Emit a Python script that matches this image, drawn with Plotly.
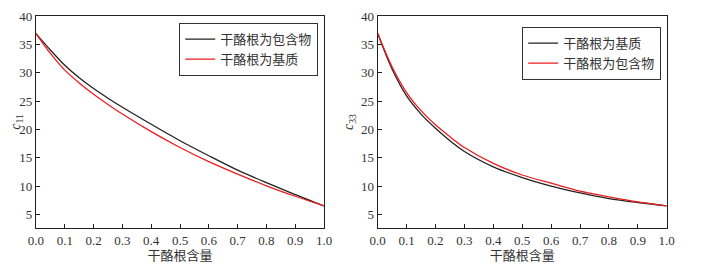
import plotly.graph_objects as go

x_vals = [0.0, 0.05, 0.1, 0.15, 0.2, 0.25, 0.3, 0.4, 0.5, 0.6, 0.7, 0.8, 0.9, 1.0]

# Left panel: c11
c11_inclusion = [36.9, 34.0, 31.3, 29.1, 27.2, 25.5, 23.9, 20.9, 18.0, 15.35, 12.8, 10.6, 8.5, 6.5]
c11_matrix = [36.9, 33.4, 30.45, 28.2, 26.2, 24.4, 22.7, 19.6, 16.8, 14.3, 12.1, 10.05, 8.2, 6.5]

# Right panel: c33
c33_matrix = [36.9, 30.6, 25.9, 22.7, 20.2, 18.0, 16.1, 13.4, 11.5, 10.0, 8.8, 7.8, 7.1, 6.5]
c33_inclusion = [36.9, 31.0, 26.5, 23.3, 20.8, 18.7, 16.8, 14.0, 11.95, 10.5, 9.1, 8.1, 7.2, 6.5]

x_ticks = [0.0, 0.1, 0.2, 0.3, 0.4, 0.5, 0.6, 0.7, 0.8, 0.9, 1.0]
x_tick_text = ["0.0", "0.1", "0.2", "0.3", "0.4", "0.5", "0.6", "0.7", "0.8", "0.9", "1.0"]
y_ticks = [5, 10, 15, 20, 25, 30, 35, 40]

name_incl = "干酪根为包含物"
name_mat = "干酪根为基质"
x_title = "干酪根含量"

FONT = "Liberation Serif, Noto Sans CJK SC, serif"

fig = go.Figure()
fig.add_trace(go.Scatter(x=x_vals, y=c11_inclusion, mode="lines", name=name_incl,
                         line=dict(color="#222222", width=1.3, shape="spline", smoothing=0.8),
                         xaxis="x", yaxis="y", legend="legend"))
fig.add_trace(go.Scatter(x=x_vals, y=c11_matrix, mode="lines", name=name_mat,
                         line=dict(color="#ee1c1c", width=1.3, shape="spline", smoothing=0.8),
                         xaxis="x", yaxis="y", legend="legend"))
fig.add_trace(go.Scatter(x=x_vals, y=c33_matrix, mode="lines", name=name_mat,
                         line=dict(color="#222222", width=1.3, shape="spline", smoothing=0.8),
                         xaxis="x2", yaxis="y2", legend="legend2"))
fig.add_trace(go.Scatter(x=x_vals, y=c33_inclusion, mode="lines", name=name_incl,
                         line=dict(color="#ee1c1c", width=1.3, shape="spline", smoothing=0.8),
                         xaxis="x2", yaxis="y2", legend="legend2"))

ax_common = dict(showline=True, linecolor="#222222", linewidth=1.2, mirror=True,
                 ticks="inside", ticklen=4, tickcolor="#222222", showgrid=False,
                 zeroline=False, automargin=False,
                 tickfont=dict(family=FONT, size=13, color="#333333"))

# figure is offset by the page's 8px body margin, so it is 8px smaller
fig.update_layout(
    width=707, height=256,
    margin=dict(l=0, r=0, t=0, b=0),
    paper_bgcolor="white", plot_bgcolor="white",
    font=dict(family=FONT, size=13, color="#333333"),
    xaxis=dict(domain=[0.0396, 0.4470], range=[0, 1], tickvals=x_ticks, ticktext=x_tick_text,
               title=dict(text=x_title, standoff=0, font=dict(size=13)), anchor="y", **ax_common),
    yaxis=dict(domain=[0.1406, 0.96875], range=[2.6, 40], tickvals=y_ticks,
               title=dict(text="<i>c</i><sub>11</sub>", standoff=4, font=dict(size=14)),
               anchor="x", **ax_common),
    xaxis2=dict(domain=[0.5229, 0.9317], range=[0, 1], tickvals=x_ticks, ticktext=x_tick_text,
                title=dict(text=x_title, standoff=0, font=dict(size=13)), anchor="y2", **ax_common),
    yaxis2=dict(domain=[0.1406, 0.96875], range=[2.6, 40], tickvals=y_ticks,
                title=dict(text="<i>c</i><sub>33</sub>", standoff=4, font=dict(size=14)),
                anchor="x2", **ax_common),
    legend=dict(x=0.4385, y=0.9414, xanchor="right", yanchor="top",
                bgcolor="white", bordercolor="#333333", borderwidth=1.2,
                font=dict(family=FONT, size=13, color="#333333"),
                tracegroupgap=0, itemwidth=30),
    legend2=dict(x=0.9236, y=0.9258, xanchor="right", yanchor="top",
                 bgcolor="white", bordercolor="#333333", borderwidth=1.2,
                 font=dict(family=FONT, size=13, color="#333333"),
                 tracegroupgap=0, itemwidth=30),
)

fig.write_html("out.html")
